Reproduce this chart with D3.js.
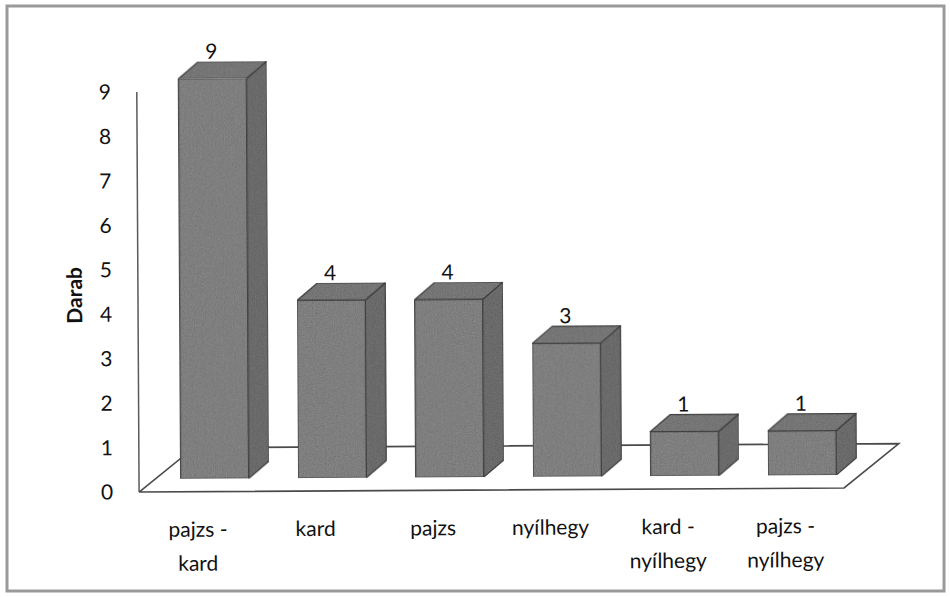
<!DOCTYPE html>
<html><head><meta charset="utf-8">
<script src="https://cdn.jsdelivr.net/npm/d3@7"></script>
<style>html,body{margin:0;padding:0;background:#fff;}svg{display:block;}</style>
</head><body>
<script>
const categories = [["pajzs -","kard"],["kard"],["pajzs"],["nyílhegy"],["kard -","nyílhegy"],["pajzs -","nyílhegy"]];
const values = [9,4,4,3,1,1];
const yTicks = [0,1,2,3,4,5,6,7,8,9];
const yTitle = "Darab";

const W = 950, H = 597;
const svg = d3.select("body").append("svg").attr("width", W).attr("height", H);

// noise filter for mottled scan look
const defs = svg.append("defs");
const f = defs.append("filter").attr("id","grain").attr("x","0").attr("y","0").attr("width","1").attr("height","1");
f.append("feTurbulence").attr("type","fractalNoise").attr("baseFrequency","0.9").attr("numOctaves","2").attr("seed","3").attr("result","n");
f.append("feColorMatrix").attr("in","n").attr("type","matrix")
 .attr("values","0 0 0 0 0  0 0 0 0 0  0 0 0 0 0  0.33 0.33 0.33 0 -0.3").attr("result","na");
f.append("feComposite").attr("in","na").attr("in2","SourceGraphic").attr("operator","in").attr("result","nb");
f.append("feMerge").call(m=>{m.append("feMergeNode").attr("in","SourceGraphic");m.append("feMergeNode").attr("in","nb");});

// frame
svg.append("rect").attr("x",7).attr("y",6).attr("width",937).attr("height",585)
  .attr("fill","none").attr("stroke","#9a9a9a").attr("stroke-width",3);

const g = svg.append("g").attr("transform","rotate(-0.33,490,300)");

const axisX = 138, rightX = 843;
const x = d3.scaleBand().domain(d3.range(categories.length)).range([axisX, rightX])
  .paddingInner(0.42).paddingOuter(0.21);
const y = d3.scaleLinear().domain([0,9]).range([490, 90]);

const floorD = {dx:55, dy:-44};
const frontD = {dx:17, dy:-13};
const barD = {dx:20, dy:-17};

const lineC = "#4a4a4a";
const font = "Lato, 'Open Sans', sans-serif";
// floor
const y0 = y(0);
g.append("path").attr("d", d3.line()([
  [axisX, y0],[rightX, y0],[rightX+floorD.dx, y0+floorD.dy],[axisX+floorD.dx, y0+floorD.dy],[axisX,y0]
])).attr("fill","none").attr("stroke",lineC).attr("stroke-width",1.6);

// vertical axis line
g.append("line").attr("x1",axisX).attr("x2",axisX).attr("y1",y(9)).attr("y2",y0)
  .attr("stroke","#5a5a5a").attr("stroke-width",1.5);

// ticks labels
g.selectAll("text.tick").data(yTicks).join("text").attr("class","tick")
  .attr("x",106).attr("y",d=>y(d)).attr("dy","0.35em").attr("text-anchor","middle")
  .attr("font-family",font).attr("font-size",21).attr("fill","#111")
  .text(d=>d);

g.append("text").attr("transform","translate(82,293) rotate(-90)").attr("text-anchor","middle")
  .attr("font-family",font).attr("font-weight","bold").attr("font-size",21)
  .attr("fill","#111").text(yTitle);

// bars
const bars = g.selectAll("g.bar").data(values).join("g").attr("class","bar");
bars.each(function(v,i){
  const el = d3.select(this);
  const x0 = x(i) + frontD.dx, x1 = x0 + x.bandwidth();
  const yb = y(0) + frontD.dy, yt = y(v) + frontD.dy;
  const bx = barD.dx, by = barD.dy;
  const st = {stroke:"#484848","stroke-width":1.2,"stroke-linejoin":"round"};
  const poly = (pts, fill) => {
    const p = el.append("path").attr("d", d3.line()(pts)+"Z").attr("fill",fill).attr("filter","url(#grain)");
    Object.entries(st).forEach(([k,val])=>p.attr(k,val));
  };
  poly([[x0,yb],[x1,yb],[x1,yt],[x0,yt]], "#8c8c8c");
  poly([[x1,yb],[x1+bx,yb+by],[x1+bx,yt+by],[x1,yt]], "#767676");
  poly([[x0,yt],[x1,yt],[x1+bx,yt+by],[x0+bx,yt+by]], "#828282");
  el.append("text").attr("x",(x0+x1)/2 - 1).attr("y",yt+by-3).attr("text-anchor","middle")
    .attr("font-family",font).attr("font-size",21).attr("fill","#111").text(v);
});

// category labels
const cl = g.selectAll("text.cat").data(categories).join("text").attr("class","cat")
  .attr("text-anchor","middle").attr("font-family",font)
  .attr("font-size",21).attr("fill","#111");
cl.each(function(lines,i){
  const t = d3.select(this);
  lines.forEach((s,k)=>t.append("tspan").attr("x",x(i)+x.bandwidth()/2).attr("y",535+k*34).text(s));
});
</script>
</body></html>
